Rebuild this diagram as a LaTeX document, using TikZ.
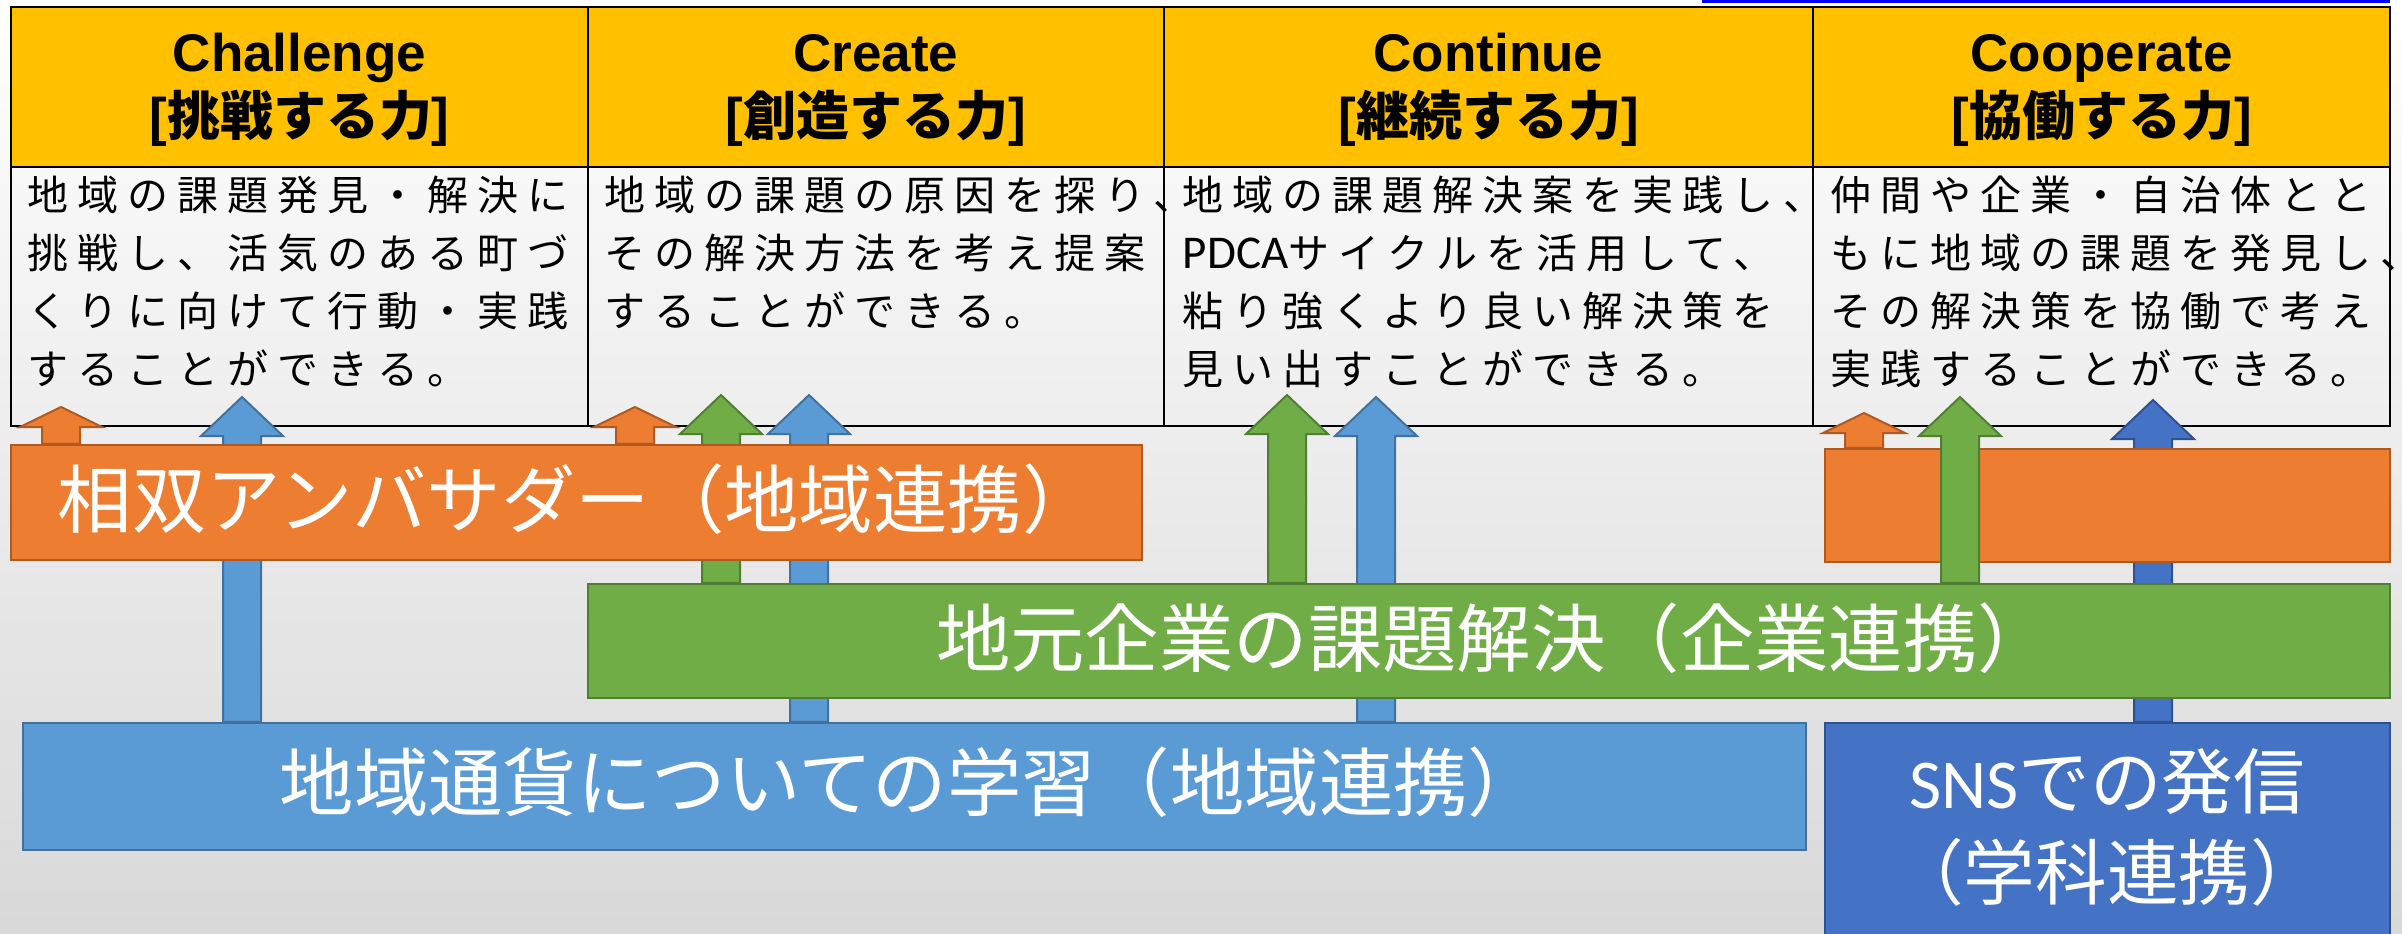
\documentclass[tikz,border=0pt]{standalone}
\usepackage{fontspec}
\usetikzlibrary{fit,calc}
\newfontfamily\jpf{Noto Sans CJK JP}
\newfontfamily\jpsp{Noto Sans CJK JP}[LetterSpace=22]
\newfontfamily\arf{Liberation Sans}
\newfontfamily\calf{Carlito}
\definecolor{hdr}{HTML}{FFC000}
\definecolor{org}{HTML}{ED7D31}
\definecolor{orgD}{HTML}{AE5A21}
\definecolor{grn}{HTML}{70AD47}
\definecolor{grnD}{HTML}{507E32}
\definecolor{lbl}{HTML}{5B9BD5}
\definecolor{lblD}{HTML}{41719C}
\definecolor{dbl}{HTML}{4472C4}
\definecolor{dblD}{HTML}{2F528F}
\pgfdeclarelayer{bg}\pgfdeclarelayer{arrlayer}\pgfdeclarelayer{fr}
\pgfsetlayers{bg,arrlayer,main,fr}
\tikzset{
  cell/.style={draw=black, line width=0.7pt, inner sep=0pt},
  hdcell/.style={cell, fill=hdr},
  bx/.style={draw=#1D, fill=#1, line width=0.6pt, inner sep=0pt},
  blk/.style={fill=#1, draw=#1D, line width=0.5pt, line join=miter},
  hdtext/.style={align=center, inner sep=0pt, font=\arf\bfseries\fontsize{13.25pt}{16pt}\selectfont},
  bodytext/.style={align=left, anchor=north west, inner sep=0pt, font=\jpsp\fontsize{10.25pt}{14.5pt}\selectfont},
  lab/.style={text=white, inner sep=0pt, align=center, font=\jpf\fontsize{18.6pt}{22.75pt}\selectfont}
}
\newcommand\blockarr[5]{%
  \draw[blk=#1] let \p1=(#5.north), \p2=(#2,#3) in
  (\x2-4.75pt,\y1) -- (\x2-4.75pt,\y2-#4*0.25pt) -- (\x2-10.25pt,\y2-#4*0.25pt) -- (\p2)
  -- (\x2+10.25pt,\y2-#4*0.25pt) -- (\x2+4.75pt,\y2-#4*0.25pt) -- (\x2+4.75pt,\y1) -- cycle;}
\newcommand\hj[1]{{\jpf\bfseries #1}}
\newcommand\pdca{{\calf\fontsize{11.75pt}{14.5pt}\selectfont PDCA}}
\begin{document}
\begin{tikzpicture}[x=0.25pt,y=-0.25pt]
\useasboundingbox (0,0) rectangle (2402,933);
\begin{pgfonlayer}{bg}
  \shade[top color=white, bottom color=black!15] (0,0) rectangle (2402,933);
  \fill[blue] (1702,0) rectangle (2390,2.5);
  % table
  \node[hdcell, fit={(11,7)(588,167)}] (h1) {};
  \node[hdcell, fit={(588,7)(1164,167)}] (h2) {};
  \node[hdcell, fit={(1164,7)(1813,167)}] (h3) {};
  \node[hdcell, fit={(1813,7)(2390,167)}] (h4) {};
  \node[cell, fit={(11,167)(588,426)}] (b1) {};
  \node[cell, fit={(588,167)(1164,426)}] (b2) {};
  \node[cell, fit={(1164,167)(1813,426)}] (b3) {};
  \node[cell, fit={(1813,167)(2390,426)}] (b4) {};
  \node[hdtext] (t1) at (299.5,90) {Challenge\\{[}\hj{挑戦する力}{]}};
  \node[hdtext] (t2) at (876,90) {Create\\{[}\hj{創造する力}{]}};
  \node[hdtext] (t3) at (1488.5,90) {Continue\\{[}\hj{継続する力}{]}};
  \node[hdtext] (t4) at (2101.5,90) {Cooperate\\{[}\hj{協働する力}{]}};
  \node[bodytext] (d1) at (27,175) {地域の課題発見・解決に\\挑戦し、活気のある町づ\\くりに向けて行動・実践\\することができる。};
  \node[bodytext] (d2) at (604,175) {地域の課題の原因を探り、\\その解決方法を考え提案\\することができる。};
  \node[bodytext] (d3) at (1182,175) {地域の課題解決案を実践し、\\\pdca サイクルを活用して、\\粘り強くより良い解決策を\\見い出すことができる。};
  \node[bodytext] (d4) at (1830,175) {仲間や企業・自治体とと\\もに地域の課題を発見し、\\その解決策を協働で考え\\実践することができる。};
\end{pgfonlayer}
% boxes
\node[bx=org, fit={(11,445)(1142,560)}] (amb) {};
\node[bx=org, fit={(1825,449)(2390,562)}] (amb2) {};
\node[bx=grn, fit={(588,584)(2390,698)}] (biz) {};
\node[bx=lbl, fit={(23,723)(1806,850)}] (cur) {};
\node[bx=dbl, fit={(1825,723)(2390,945)}] (sns) {};
\node[lab, anchor=west] (ambt) at (57,499) {相双アンバサダー（地域連携）};
\node[lab] (bizt) at (1494,638) {地元企業の課題解決（企業連携）};
\node[lab] (curt) at (911,782) {地域通貨についての学習（地域連携）};
\node[lab, font=\jpf\fontsize{17.9pt}{22.75pt}\selectfont] (snst) at (2107,827) {{\calf\fontsize{17.5pt}{22.75pt}\selectfont SNS}での発信\\（学科連携）};
\begin{pgfonlayer}{arrlayer}
  \blockarr{org}{61}{407}{20}{amb}
  \blockarr{org}{635}{407}{20}{amb}
  \blockarr{org}{1864}{413}{20}{amb2}
  \blockarr{lbl}{242}{397}{39}{cur}
  \blockarr{lbl}{809}{395}{39}{cur}
  \blockarr{lbl}{1376}{397}{39}{cur}
  \blockarr{grn}{721}{395}{39}{biz}
  \blockarr{grn}{1287}{395}{39}{biz}
  \blockarr{dbl}{2153}{400}{39}{sns}
\end{pgfonlayer}
\begin{pgfonlayer}{fr}
  \blockarr{grn}{1960}{397}{39}{biz}
\end{pgfonlayer}
\end{tikzpicture}
\end{document}
